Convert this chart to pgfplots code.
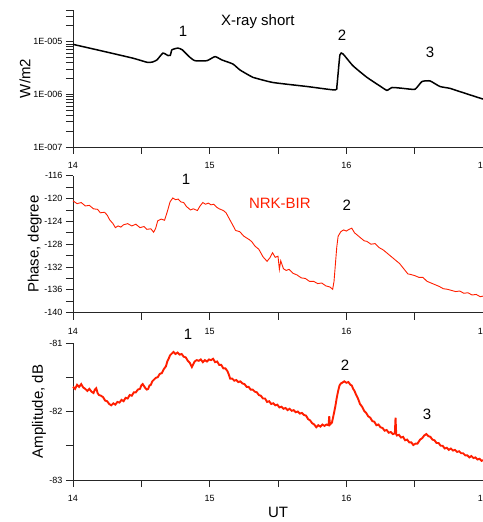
\documentclass[border=0pt]{standalone}
\usepackage{pgfplots}
\pgfplotsset{compat=1.18}
\usepackage{fontspec}
\setmainfont{Liberation Sans}
\definecolor{vlf}{RGB}{255,30,0}
\newcommand{\bigf}{\fontsize{15}{17}\selectfont}
\pgfplotsset{
  every axis/.append style={
    scale only axis, width=410pt, height=137pt,
    xmin=14, xmax=17,
    axis x line*=bottom, axis y line*=left,
    axis line style={line width=0.8pt, black!85},
    tick align=outside,
    major tick length=7pt, minor tick length=7pt,
    tick style={line width=0.8pt, black!85},
    xtick={14,15,16,17}, minor xtick={14.5,15.5,16.5},
    tick label style={font=\fontsize{9}{10}\selectfont},
    xticklabel style={yshift=-5pt},
    /pgf/number format/assume math mode=true,
    clip=false,
  }
}
\begin{document}
\begin{tikzpicture}
% ---------- X-ray ----------
\begin{axis}[at={(73pt,375pt)}, anchor=south west,
  ymode=log, ymin=1e-7, ymax=4e-5,
  ytick={1e-7,1e-6,1e-5}, yticklabels={1E-007,1E-006,1E-005},
  minor ytick={2e-7,3e-7,4e-7,5e-7,6e-7,7e-7,8e-7,9e-7,2e-6,3e-6,4e-6,5e-6,6e-6,7e-6,8e-6,9e-6,2e-5,3e-5,4e-5},
  ylabel={W/m2}, ylabel style={at={(axis description cs:-0.117,0.5)}, rotate=0, anchor=center, font=\bigf},
]
\addplot[black, line width=1.5pt, smooth, tension=0.3] coordinates {
(14.000,8.9e-6)(14.198,6.8e-6)(14.439,4.86e-6)(14.541,4.07e-6)(14.58,4.1e-6)
(14.614,4.5e-6)(14.658,6.07e-6)(14.695,5.46e-6)(14.712,5.5e-6)(14.724,7.02e-6)
(14.768,7.56e-6)(14.80,7.0e-6)(14.85,5.2e-6)(14.892,4.36e-6)(14.98,4.36e-6)
(15.039,5.21e-6)(15.09,4.5e-6)(15.17,3.77e-6)(15.222,2.9e-6)(15.295,2.25e-6)
(15.317,2.1e-6)(15.463,1.68e-6)(15.712,1.41e-6)(15.917,1.21e-6)(15.931,1.43e-6)
(15.953,5.62e-6)(15.975,5.88e-6)(16.048,3.5e-6)(16.151,2.1e-6)(16.246,1.44e-6)
(16.297,1.19e-6)(16.334,1.35e-6)(16.414,1.3e-6)(16.502,1.25e-6)(16.553,1.75e-6)
(16.612,1.8e-6)(16.685,1.41e-6)(16.758,1.3e-6)(16.853,1.08e-6)(16.992,8.26e-7)(17.00,8.2e-7)
};
\node[font=\bigf] at (axis cs:15.353,2.42e-5) {X-ray short};
\node[font=\bigf] at (axis cs:14.805,1.56e-5) {1};
\node[font=\bigf] at (axis cs:15.968,1.30e-5) {2};
\node[font=\bigf] at (axis cs:16.612,6.4e-6) {3};
\end{axis}
% ---------- Phase ----------
\begin{axis}[at={(73pt,209.3pt)}, anchor=south west,
  ymin=-140, ymax=-116,
  ytick={-140,-136,...,-116}, minor y tick num=1,
  ylabel={Phase, degree}, ylabel style={at={(axis description cs:-0.093,0.5)}, rotate=0, anchor=center, font=\bigf},
]
\addplot[vlf, line width=0.9pt] coordinates {
(14.00,-120.4)(14.03,-120.9)(14.06,-120.7)(14.09,-121.3)(14.12,-121.2)(14.15,-121.8)
(14.18,-121.9)(14.20,-122.5)(14.23,-122.4)(14.25,-122.9)(14.27,-123.8)(14.29,-124.3)
(14.31,-125.1)(14.33,-124.8)(14.35,-125.0)(14.37,-124.6)(14.40,-124.4)(14.43,-124.8)
(14.46,-124.5)(14.49,-125.1)(14.52,-124.9)(14.54,-125.4)(14.57,-125.3)(14.59,-125.9)
(14.605,-125.2)(14.62,-123.9)(14.645,-123.6)(14.67,-123.8)(14.69,-122.3)(14.71,-120.6)
(14.73,-119.9)(14.75,-120.2)(14.77,-120.1)(14.79,-120.6)(14.81,-120.7)(14.83,-121.4)
(14.86,-122.0)(14.88,-121.8)(14.91,-122.1)(14.93,-121.3)(14.95,-120.7)(14.97,-121.0)
(14.99,-120.8)(15.01,-121.1)(15.03,-121.0)(15.05,-121.5)(15.07,-121.8)(15.10,-122.1)
(15.12,-122.5)(15.145,-123.6)(15.17,-124.7)(15.19,-125.6)(15.22,-125.8)(15.25,-126.6)
(15.29,-127.2)(15.31,-127.6)(15.33,-128.3)(15.36,-128.9)(15.39,-130.2)(15.42,-131.0)
(15.44,-130.4)(15.46,-129.5)(15.48,-130.3)(15.50,-130.1)(15.51,-132.4)(15.52,-130.9)
(15.54,-132.3)(15.56,-132.6)(15.58,-132.4)(15.61,-133.1)(15.64,-133.4)(15.67,-133.9)
(15.70,-134.0)(15.73,-134.5)(15.76,-134.5)(15.79,-134.9)(15.82,-134.8)(15.85,-135.3)
(15.88,-135.5)(15.90,-135.9)(15.91,-134.5)(15.92,-131.5)(15.93,-128.5)(15.94,-126.6)
(15.96,-125.8)(15.98,-125.5)(16.00,-125.7)(16.02,-125.4)(16.04,-125.2)(16.06,-126.0)
(16.08,-126.4)(16.10,-126.8)(16.13,-127.4)(16.15,-127.5)(16.18,-128.0)(16.21,-127.9)
(16.24,-128.6)(16.27,-129.0)(16.30,-129.6)(16.33,-130.2)(16.36,-130.8)(16.39,-131.4)
(16.42,-132.3)(16.45,-133.2)(16.47,-133.3)(16.50,-133.5)(16.53,-133.8)(16.56,-133.8)
(16.59,-134.5)(16.62,-134.8)(16.65,-135.1)(16.68,-135.4)(16.71,-135.8)(16.74,-135.9)
(16.77,-136.1)(16.80,-136.3)(16.83,-136.2)(16.86,-136.6)(16.89,-136.5)(16.92,-136.9)
(16.95,-136.8)(16.98,-137.2)(17.00,-137.1)
};
\node[font=\bigf] at (axis cs:14.827,-116.7) {1};
\node[font=\bigf, text=vlf] at (axis cs:15.514,-120.9) {NRK-BIR};
\node[font=\bigf] at (axis cs:16.004,-121.2) {2};
\end{axis}
% ---------- Amplitude ----------
\begin{axis}[at={(73pt,42pt)}, anchor=south west,
  ymin=-83, ymax=-81,
  ytick={-83,-82,-81}, minor ytick={-82.5,-81.5},
  ylabel={Amplitude, dB}, ylabel style={at={(axis description cs:-0.083,0.5)}, rotate=0, anchor=center, font=\bigf},
  xlabel={UT}, xlabel style={at={(axis description cs:0.5,-0.24)}, anchor=center, font=\bigf},
]
\addplot[vlf, line width=1.9pt] coordinates {
(14.00,-81.64)(14.015,-81.67)(14.03,-81.61)(14.045,-81.64)(14.06,-81.60)(14.075,-81.65)(14.09,-81.67)(14.105,-81.70)
(14.12,-81.67)(14.135,-81.71)(14.15,-81.73)(14.16,-81.68)(14.17,-81.66)(14.18,-81.73)(14.19,-81.76)(14.205,-81.77)
(14.22,-81.79)(14.235,-81.84)(14.25,-81.85)(14.265,-81.89)(14.28,-81.91)(14.295,-81.88)(14.31,-81.90)(14.325,-81.86)
(14.34,-81.87)(14.355,-81.83)(14.37,-81.85)(14.385,-81.80)(14.40,-81.81)(14.415,-81.76)(14.43,-81.77)(14.445,-81.72)
(14.46,-81.72)(14.475,-81.68)(14.49,-81.67)(14.50,-81.62)(14.51,-81.60)(14.52,-81.63)(14.53,-81.66)(14.54,-81.68)
(14.55,-81.67)(14.56,-81.62)(14.57,-81.61)(14.58,-81.56)(14.59,-81.54)(14.605,-81.51)(14.62,-81.50)(14.635,-81.45)
(14.65,-81.44)(14.665,-81.38)(14.68,-81.34)(14.69,-81.27)(14.70,-81.23)(14.71,-81.18)(14.72,-81.16)(14.735,-81.13)
(14.75,-81.16)(14.765,-81.14)(14.78,-81.17)(14.795,-81.16)(14.81,-81.20)(14.825,-81.21)(14.84,-81.26)(14.855,-81.29)
(14.87,-81.35)(14.88,-81.31)(14.89,-81.27)(14.905,-81.25)(14.92,-81.26)(14.935,-81.24)(14.95,-81.28)(14.965,-81.25)
(14.98,-81.27)(14.995,-81.24)(15.01,-81.25)(15.025,-81.23)(15.04,-81.28)(15.055,-81.27)(15.07,-81.32)(15.085,-81.32)
(15.10,-81.37)(15.115,-81.37)(15.13,-81.41)(15.14,-81.46)(15.15,-81.52)(15.165,-81.52)(15.18,-81.55)(15.195,-81.54)
(15.21,-81.57)(15.225,-81.56)(15.24,-81.59)(15.255,-81.60)(15.27,-81.64)(15.285,-81.64)(15.30,-81.68)(15.315,-81.68)
(15.33,-81.71)(15.345,-81.72)(15.36,-81.76)(15.375,-81.77)(15.39,-81.81)(15.405,-81.81)(15.42,-81.86)(15.435,-81.85)
(15.45,-81.89)(15.465,-81.88)(15.48,-81.91)(15.495,-81.90)(15.51,-81.94)(15.525,-81.93)(15.54,-81.96)(15.555,-81.95)
(15.57,-81.98)(15.585,-81.96)(15.60,-81.99)(15.615,-81.98)(15.63,-82.01)(15.645,-82.00)(15.66,-82.03)(15.675,-82.02)
(15.69,-82.05)(15.705,-82.06)(15.72,-82.11)(15.735,-82.13)(15.75,-82.17)(15.765,-82.19)(15.78,-82.23)(15.795,-82.20)
(15.81,-82.22)(15.825,-82.19)(15.84,-82.21)(15.855,-82.19)(15.87,-82.20)(15.875,-82.07)(15.88,-82.19)(15.895,-82.16)
(15.91,-82.02)(15.92,-81.92)(15.93,-81.80)(15.94,-81.70)(15.95,-81.62)(15.96,-81.59)(15.97,-81.58)(15.985,-81.56)
(16.00,-81.58)(16.015,-81.57)(16.03,-81.61)(16.04,-81.62)(16.05,-81.67)(16.06,-81.70)(16.07,-81.75)(16.085,-81.81)
(16.10,-81.89)(16.115,-81.93)(16.13,-81.99)(16.145,-82.02)(16.16,-82.07)(16.175,-82.09)(16.19,-82.14)(16.205,-82.15)
(16.22,-82.20)(16.235,-82.19)(16.25,-82.23)(16.265,-82.24)(16.28,-82.28)(16.295,-82.27)(16.31,-82.31)(16.325,-82.30)
(16.34,-82.33)(16.355,-82.32)(16.36,-82.09)(16.365,-82.33)(16.37,-82.35)(16.385,-82.34)(16.40,-82.38)(16.415,-82.37)
(16.43,-82.42)(16.445,-82.41)(16.46,-82.45)(16.475,-82.45)(16.49,-82.49)(16.505,-82.47)(16.52,-82.47)(16.53,-82.44)
(16.54,-82.41)(16.555,-82.39)(16.57,-82.35)(16.585,-82.33)(16.60,-82.36)(16.615,-82.37)(16.63,-82.41)(16.645,-82.42)
(16.66,-82.46)(16.675,-82.46)(16.69,-82.50)(16.705,-82.50)(16.72,-82.54)(16.735,-82.53)(16.75,-82.56)(16.765,-82.54)
(16.78,-82.57)(16.795,-82.56)(16.81,-82.59)(16.825,-82.58)(16.84,-82.61)(16.855,-82.61)(16.87,-82.64)(16.885,-82.64)
(16.90,-82.67)(16.915,-82.65)(16.93,-82.68)(16.945,-82.67)(16.96,-82.70)(16.975,-82.69)(16.99,-82.72)(17.00,-82.71)
};
\node[font=\bigf] at (axis cs:14.841,-80.88) {1};
\node[font=\bigf] at (axis cs:15.99,-81.32) {2};
\node[font=\bigf] at (axis cs:16.59,-82.04) {3};
\end{axis}
\pgfresetboundingbox
\useasboundingbox (0,0) rectangle (482pt,522pt);
\end{tikzpicture}
\end{document}
